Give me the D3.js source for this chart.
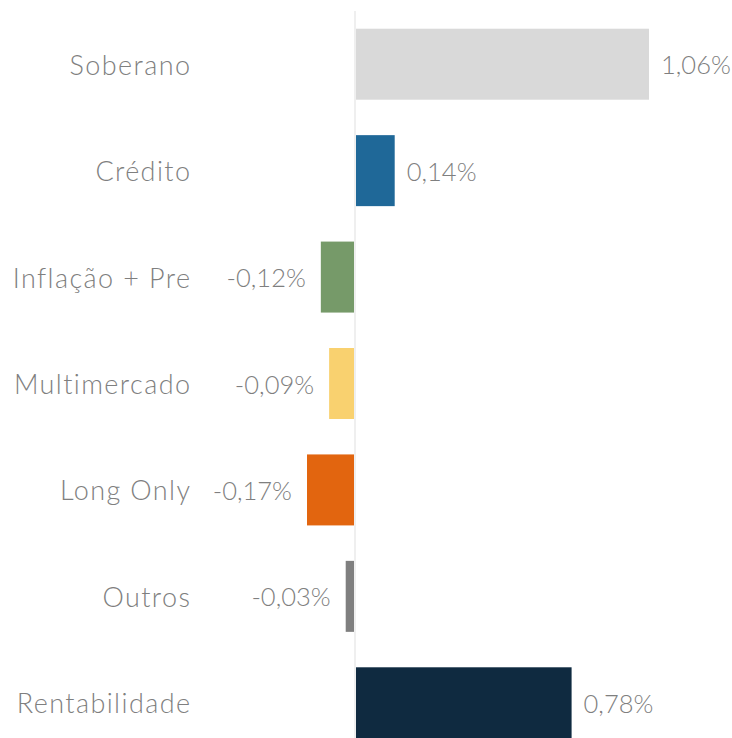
<!DOCTYPE html>
<html>
<head>
<meta charset="utf-8">
<script src="https://cdn.jsdelivr.net/npm/d3@7"></script>
<style>
  html, body { margin: 0; padding: 0; background: #ffffff; }
  svg { display: block; }
  text { font-family: "Lato", "Open Sans", sans-serif; font-weight: 300; fill: #7f7f7f; }
</style>
</head>
<body>
<svg id="chart" width="732" height="738"></svg>
<script>
// Contribution to return by asset class (percentage points)
const categories = ["Soberano", "Crédito", "Inflação + Pre", "Multimercado", "Long Only", "Outros", "Rentabilidade"];
const values = [1.06, 0.14, -0.12, -0.09, -0.17, -0.03, 0.78];
const valueLabels = ["1,06%", "0,14%", "-0,12%", "-0,09%", "-0,17%", "-0,03%", "0,78%"];
const colors = ["#d9d9d9", "#1f6898", "#769a69", "#f9d16f", "#e2650f", "#7f7f7f", "#0f2a40"];

const data = categories.map((c, i) => ({ cat: c, value: values[i], label: valueLabels[i], color: colors[i] }));

const svg = d3.select("#chart");

const zeroX = 355;
const pxPerUnit = 276.4;
const x = d3.scaleLinear()
  .domain([0, 1])
  .range([zeroX, zeroX + pxPerUnit]);

const y = d3.scaleBand()
  .domain(categories)
  .range([11, 756])
  .paddingInner(0.333)
  .paddingOuter(0.1665);

const catSize = 27;
const valSize = 25.5;
const catSpacing = 1.4;

// Bars (leave the 2px zero line visible between positive and negative bars)
svg.append("g")
  .selectAll("rect")
  .data(data)
  .join("rect")
  .attr("x", d => d.value >= 0 ? x(0) + 1 : x(d.value) - 1)
  .attr("y", d => y(d.cat))
  .attr("width", d => Math.abs(x(d.value) - x(0)))
  .attr("height", y.bandwidth())
  .attr("fill", d => d.color);

// Zero axis line
svg.append("line")
  .attr("x1", x(0)).attr("x2", x(0))
  .attr("y1", 11).attr("y2", 738)
  .attr("stroke", "#efefef")
  .attr("stroke-width", 2);

// Category labels
svg.append("g")
  .selectAll("text")
  .data(data)
  .join("text")
  .attr("x", 190 + catSpacing)
  .attr("y", d => y(d.cat) + y.bandwidth() / 2)
  .attr("text-anchor", "end")
  .attr("dominant-baseline", "central")
  .style("font-size", catSize + "px")
  .style("letter-spacing", catSpacing + "px")
  .text(d => d.cat);

// Value labels
svg.append("g")
  .selectAll("text")
  .data(data)
  .join("text")
  .attr("x", d => d.value >= 0 ? x(d.value) + 13 : x(d.value) - 16)
  .attr("y", d => y(d.cat) + y.bandwidth() / 2)
  .attr("text-anchor", d => d.value >= 0 ? "start" : "end")
  .attr("dominant-baseline", "central")
  .style("font-size", valSize + "px")
  .text(d => d.label);
</script>
</body>
</html>
